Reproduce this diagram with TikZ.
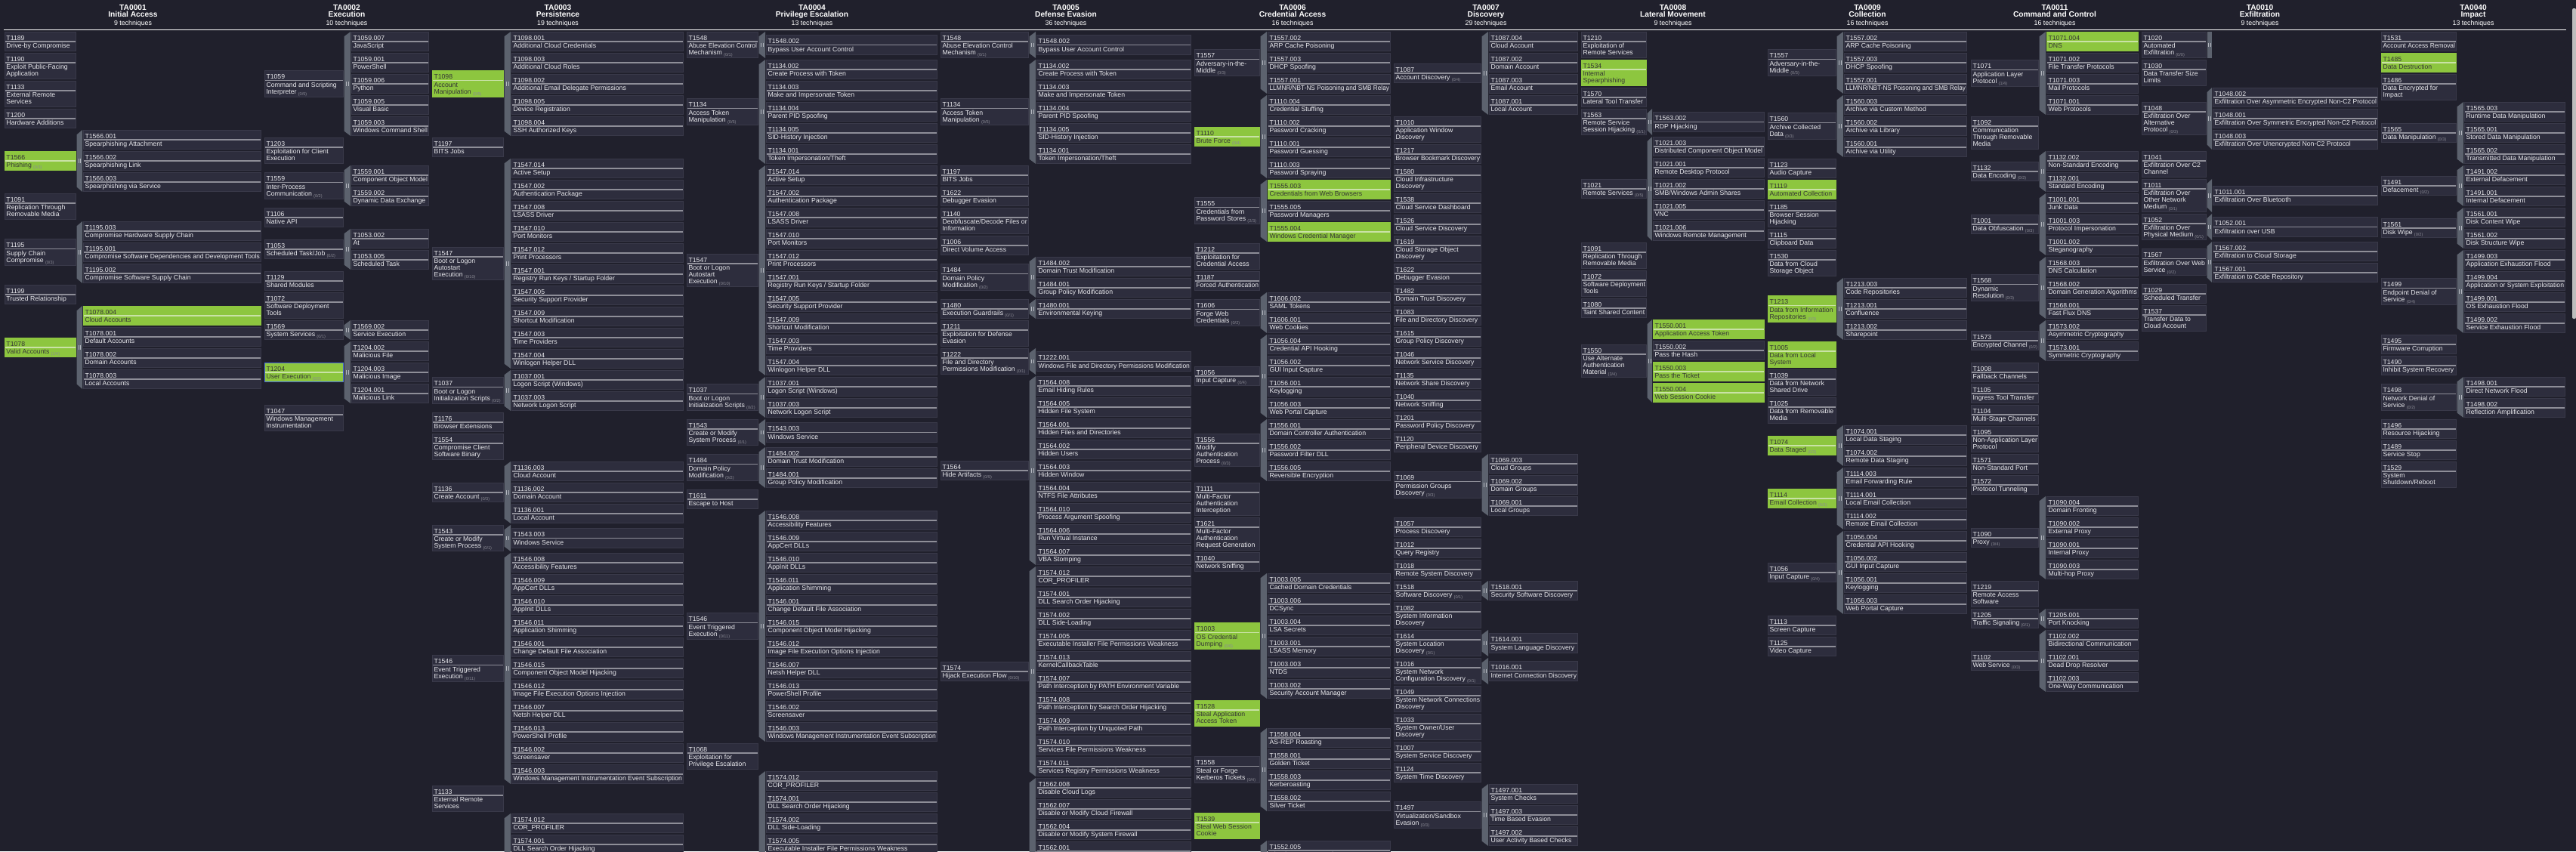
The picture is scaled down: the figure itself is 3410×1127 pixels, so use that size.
\documentclass[tikz,border=0pt]{standalone}
\usepackage{fontspec}
\setmainfont{Liberation Sans}
\usepackage{graphicx}
\definecolor{bgcol}{HTML}{20202C}
\definecolor{cellbg}{HTML}{2D2D3D}
\definecolor{cellbd}{HTML}{393949}
\definecolor{txt}{HTML}{E8E8EC}
\definecolor{txtdark}{HTML}{353535}
\definecolor{barcol}{HTML}{8E8E98}
\definecolor{hlgreen}{HTML}{8DC63F}
\definecolor{barhl}{HTML}{C9E2A6}
\definecolor{selblue}{HTML}{4A6FD6}
\definecolor{handlecol}{HTML}{5C626E}
\definecolor{markcol}{HTML}{B5B8C0}
\definecolor{cntcol}{HTML}{8A8A94}
\definecolor{scrollcol}{HTML}{BDBDBD}
\newsavebox\fitbox
\newcommand\fitto[2]{\sbox\fitbox{#2}\ifdim\wd\fitbox>#1\relax\resizebox{#1}{\ht\fitbox}{\usebox\fitbox}\else\usebox\fitbox\fi}
\newcommand\cellfont{\fontsize{8.7}{9}\selectfont}
\newcommand\cnt[1]{\hspace{2.2pt}\raisebox{-2pt}{\fontsize{5.6}{6}\selectfont\color{cntcol}(#1)}}
\newcommand\LN[1]{\hbox{\fitto{\curW}{#1}}}
\newcount\nsub
\newcommand\drawcell[7]{%
 \pgfmathsetmacro\cH{17.6+9*#4}%
 \ifcase#5\relax\def\cF{cellbg}\def\cT{txt}\def\cB{barcol}\def\cD{cellbd}%
 \or\def\cF{hlgreen}\def\cT{txtdark}\def\cB{barhl}\def\cD{hlgreen}%
 \else\def\cF{hlgreen}\def\cT{txtdark}\def\cB{barhl}\def\cD{selblue}\fi
 \filldraw[fill=\cF,draw=\cD,line width=0.8pt] (#1+0.4,#2+0.4) rectangle (#1+#3-0.4,#2+\cH-0.4);
 \fill[fill=\cB] (#1+0.7,#2+12.9) rectangle (#1+#3-0.7,#2+14.2);
 \pgfmathsetmacro\cW{#3-4.5}\xdef\curW{\cW pt}%
 \node[anchor=base west,inner sep=0,text=\cT,font=\cellfont] at (#1+2.3,#2+11.6) {#6};
 \node[anchor=base west,inner sep=0,text=\cT,font=\cellfont] at (#1+2.3,#2+22) {\vtop{\baselineskip=9pt\lineskiplimit=-20pt\lineskip=0pt #7}};
}
\newcommand\tactic[4]{\xdef\colTX{#1}\xdef\colTW{#2}\xdef\colSX{#3}\xdef\colSW{#4}\xdef\curY{41.5}}
\newcommand\marker[2]{\draw[draw=markcol,line width=0.8pt] (#1-1.1,#2-2.8) -- (#1-1.1,#2+2.8) (#1+1.1,#2-2.8) -- (#1+1.1,#2+2.8);}
\newcommand\tech[4]{%
 \drawcell{\colTX}{\curY}{\colTW}{#2}{#3}{#1}{#4}%
 \pgfmathsetmacro\tmpY{\curY+19+9*#2}\xdef\curY{\tmpY}}
\newcommand\techH[4]{%
 \drawcell{\colTX}{\curY}{\colTW}{#2}{#3}{#1}{#4}%
 \pgfmathsetmacro\hxa{\colTX+\colTW+0.6}\pgfmathsetmacro\hxb{\colSX-0.8}%
 \pgfmathsetmacro\hyb{\curY+17.6+9*#2}%
 \fill[fill=handlecol] (\hxa,\curY) rectangle (\hxb,\hyb);
 \pgfmathsetmacro\hxc{(\hxa+\hxb)/2}\pgfmathsetmacro\hyc{(\curY+\hyb)/2}%
 \marker{\hxc}{\hyc}%
 \pgfmathsetmacro\tmpY{\curY+19+9*#2}\xdef\curY{\tmpY}}
\newcommand\techS[5]{%
 \global\nsub=0
 \foreach \q in {#5}{\global\advance\nsub by 1}%
 \pgfmathsetmacro\tP{19+9*#2}%
 \pgfmathsetmacro\sH{28*\the\nsub}%
 \pgfmathsetmacro\bH{max(\tP,\sH)}%
 \pgfmathsetmacro\sT{\curY+(\bH-\sH)/2}%
 \pgfmathsetmacro\tT{\curY+(\bH-\tP)/2}%
 \pgfmathsetmacro\hxa{\colTX+\colTW+0.6}\pgfmathsetmacro\hxb{\colSX-0.8}%
 \pgfmathsetmacro\hya{\curY+0.3}\pgfmathsetmacro\hyb{\curY+\bH-1.4}%
 \fill[fill=handlecol] (\hxa,\hya+6.5) -- (\hxb,\hya) -- (\hxb,\hyb) -- (\hxa,\hyb-6.5) -- cycle;
 \pgfmathsetmacro\hxc{(\hxa+\hxb)/2}\pgfmathsetmacro\hyc{(\hya+\hyb)/2}%
 \marker{\hxc}{\hyc}%
 \drawcell{\colTX}{\tT}{\colTW}{#2}{#3}{#1}{#4}%
 \foreach \sid/\sname/\shl [count=\kk from 0] in {#5}{%
   \pgfmathsetmacro\yy{\sT+28*\kk}%
   \drawcell{\colSX}{\yy}{\colSW}{1}{\shl}{\sid}{\LN{\sname}}}%
 \pgfmathsetmacro\tmpY{\curY+\bH}\xdef\curY{\tmpY}}
\newcommand\header[4]{%
 \node[anchor=base,inner sep=0,text=white,font=\bfseries\fontsize{10.2}{11}\selectfont] at (#1,13.3) {#2};
 \node[anchor=base,inner sep=0,text=white,font=\bfseries\fontsize{10.2}{11}\selectfont] at (#1,22.6) {#3};
 \node[anchor=base,inner sep=0,text=white,font=\fontsize{8.8}{10}\selectfont] at (#1,33.2) {#4};}
\begin{document}
\begin{tikzpicture}[x=1pt,y=-1pt]
\useasboundingbox (0,0) rectangle (3410,1127);
\fill[fill=bgcol] (0,0) rectangle (3410,1127);
\clip (0,0) rectangle (3410,1127);
\fill[fill=scrollcol,rounded corners=2pt] (3405,11) rectangle (3410,422);
% headers
\header{176}{TA0001}{Initial Access}{9 techniques}
\header{459}{TA0002}{Execution}{10 techniques}
\header{738.5}{TA0003}{Persistence}{19 techniques}
\header{1075}{TA0004}{Privilege Escalation}{13 techniques}
\header{1411}{TA0005}{Defense Evasion}{36 techniques}
\header{1711}{TA0006}{Credential Access}{16 techniques}
\header{1967}{TA0007}{Discovery}{29 techniques}
\header{2214.5}{TA0008}{Lateral Movement}{9 techniques}
\header{2472}{TA0009}{Collection}{16 techniques}
\header{2720}{TA0011}{Command and Control}{16 techniques}
\header{2991.5}{TA0010}{Exfiltration}{9 techniques}
\header{3274}{TA0040}{Impact}{13 techniques}
\draw[draw=white,line width=1.2pt] (5,39.3) -- (3397,39.3);
% ---------------- TA0001
\tactic{6}{95}{110}{236}
\tech{T1189}{1}{0}{\LN{Drive-by Compromise}}
\tech{T1190}{2}{0}{\LN{Exploit Public-Facing}\LN{Application}}
\tech{T1133}{2}{0}{\LN{External Remote}\LN{Services}}
\tech{T1200}{1}{0}{\LN{Hardware Additions}}
\techS{T1566}{1}{1}{\LN{Phishing\cnt{0/3}}}{T1566.001/Spearphishing Attachment/0,%
T1566.002/Spearphishing Link/0,%
T1566.003/Spearphishing via Service/0}
\tech{T1091}{2}{0}{\LN{Replication Through}\LN{Removable Media}}
\techS{T1195}{2}{0}{\LN{Supply Chain}\LN{Compromise\cnt{0/3}}}{T1195.003/Compromise Hardware Supply Chain/0,%
T1195.001/Compromise Software Dependencies and Development Tools/0,%
T1195.002/Compromise Software Supply Chain/0}
\tech{T1199}{1}{0}{\LN{Trusted Relationship}}
\techS{T1078}{1}{1}{\LN{Valid Accounts\cnt{1/4}}}{T1078.004/Cloud Accounts/1,%
T1078.001/Default Accounts/0,%
T1078.002/Domain Accounts/0,%
T1078.003/Local Accounts/0}
% ---------------- TA0002
\tactic{350}{105}{465}{103}
\techS{T1059}{2}{0}{\LN{Command and Scripting}\LN{Interpreter\cnt{0/5}}}{T1059.007/JavaScript/0,%
T1059.001/PowerShell/0,%
T1059.006/Python/0,%
T1059.005/Visual Basic/0,%
T1059.003/Windows Command Shell/0}
\tech{T1203}{2}{0}{\LN{Exploitation for Client}\LN{Execution}}
\techS{T1559}{2}{0}{\LN{Inter-Process}\LN{Communication\cnt{0/2}}}{T1559.001/Component Object Model/0,%
T1559.002/Dynamic Data Exchange/0}
\tech{T1106}{1}{0}{\LN{Native API}}
\techS{T1053}{1}{0}{\LN{Scheduled Task/Job\cnt{0/2}}}{T1053.002/At/0,%
T1053.005/Scheduled Task/0}
\tech{T1129}{1}{0}{\LN{Shared Modules}}
\tech{T1072}{2}{0}{\LN{Software Deployment}\LN{Tools}}
\techS{T1569}{1}{0}{\LN{System Services\cnt{0/1}}}{T1569.002/Service Execution/0}
\techS{T1204}{1}{2}{\LN{User Execution\cnt{0/3}}}{T1204.002/Malicious File/0,%
T1204.003/Malicious Image/0,%
T1204.001/Malicious Link/0}
\tech{T1047}{2}{0}{\LN{Windows Management}\LN{Instrumentation}}
% ---------------- TA0003
\tactic{572}{95}{677}{228}
\techS{T1098}{2}{1}{\LN{Account}\LN{Manipulation\cnt{0/5}}}{T1098.001/Additional Cloud Credentials/0,%
T1098.003/Additional Cloud Roles/0,%
T1098.002/Additional Email Delegate Permissions/0,%
T1098.005/Device Registration/0,%
T1098.004/SSH Authorized Keys/0}
\tech{T1197}{1}{0}{\LN{BITS Jobs}}
\techS{T1547}{3}{0}{\LN{Boot or Logon}\LN{Autostart}\LN{Execution\cnt{0/10}}}{T1547.014/Active Setup/0,%
T1547.002/Authentication Package/0,%
T1547.008/LSASS Driver/0,%
T1547.010/Port Monitors/0,%
T1547.012/Print Processors/0,%
T1547.001/{Registry Run Keys / Startup Folder}/0,%
T1547.005/Security Support Provider/0,%
T1547.009/Shortcut Modification/0,%
T1547.003/Time Providers/0,%
T1547.004/Winlogon Helper DLL/0}
\techS{T1037}{2}{0}{\LN{Boot or Logon}\LN{Initialization Scripts\cnt{0/2}}}{T1037.001/Logon Script (Windows)/0,%
T1037.003/Network Logon Script/0}
\tech{T1176}{1}{0}{\LN{Browser Extensions}}
\tech{T1554}{2}{0}{\LN{Compromise Client}\LN{Software Binary}}
\techS{T1136}{1}{0}{\LN{Create Account\cnt{0/3}}}{T1136.003/Cloud Account/0,%
T1136.002/Domain Account/0,%
T1136.001/Local Account/0}
\techS{T1543}{2}{0}{\LN{Create or Modify}\LN{System Process\cnt{0/1}}}{T1543.003/Windows Service/0}
\techS{T1546}{2}{0}{\LN{Event Triggered}\LN{Execution\cnt{0/11}}}{T1546.008/Accessibility Features/0,%
T1546.009/AppCert DLLs/0,%
T1546.010/AppInit DLLs/0,%
T1546.011/Application Shimming/0,%
T1546.001/Change Default File Association/0,%
T1546.015/Component Object Model Hijacking/0,%
T1546.012/Image File Execution Options Injection/0,%
T1546.007/Netsh Helper DLL/0,%
T1546.013/PowerShell Profile/0,%
T1546.002/Screensaver/0,%
T1546.003/Windows Management Instrumentation Event Subscription/0}
\tech{T1133}{2}{0}{\LN{External Remote}\LN{Services}}
\techS{T1574}{1}{0}{\LN{Hijack Execution Flow\cnt{0/10}}}{T1574.012/COR\_PROFILER/0,%
T1574.001/DLL Search Order Hijacking/0,%
T1574.002/DLL Side-Loading/0,%
T1574.005/Executable Installer File Permissions Weakness/0,%
T1574.013/KernelCallbackTable/0,%
T1574.007/Path Interception by PATH Environment Variable/0,%
T1574.008/Path Interception by Search Order Hijacking/0,%
T1574.009/Path Interception by Unquoted Path/0,%
T1574.010/Services File Permissions Weakness/0,%
T1574.011/Services Registry Permissions Weakness/0}
% ---------------- TA0004
\tactic{909}{95}{1014}{227}
\techS{T1548}{2}{0}{\LN{Abuse Elevation Control}\LN{Mechanism\cnt{0/1}}}{T1548.002/Bypass User Account Control/0}
\techS{T1134}{2}{0}{\LN{Access Token}\LN{Manipulation\cnt{0/5}}}{T1134.002/Create Process with Token/0,%
T1134.003/Make and Impersonate Token/0,%
T1134.004/Parent PID Spoofing/0,%
T1134.005/SID-History Injection/0,%
T1134.001/{Token Impersonation/Theft}/0}
\techS{T1547}{3}{0}{\LN{Boot or Logon}\LN{Autostart}\LN{Execution\cnt{0/10}}}{T1547.014/Active Setup/0,%
T1547.002/Authentication Package/0,%
T1547.008/LSASS Driver/0,%
T1547.010/Port Monitors/0,%
T1547.012/Print Processors/0,%
T1547.001/{Registry Run Keys / Startup Folder}/0,%
T1547.005/Security Support Provider/0,%
T1547.009/Shortcut Modification/0,%
T1547.003/Time Providers/0,%
T1547.004/Winlogon Helper DLL/0}
\techS{T1037}{2}{0}{\LN{Boot or Logon}\LN{Initialization Scripts\cnt{0/2}}}{T1037.001/Logon Script (Windows)/0,%
T1037.003/Network Logon Script/0}
\techS{T1543}{2}{0}{\LN{Create or Modify}\LN{System Process\cnt{0/1}}}{T1543.003/Windows Service/0}
\techS{T1484}{2}{0}{\LN{Domain Policy}\LN{Modification\cnt{0/2}}}{T1484.002/Domain Trust Modification/0,%
T1484.001/Group Policy Modification/0}
\tech{T1611}{1}{0}{\LN{Escape to Host}}
\techS{T1546}{2}{0}{\LN{Event Triggered}\LN{Execution\cnt{0/11}}}{T1546.008/Accessibility Features/0,%
T1546.009/AppCert DLLs/0,%
T1546.010/AppInit DLLs/0,%
T1546.011/Application Shimming/0,%
T1546.001/Change Default File Association/0,%
T1546.015/Component Object Model Hijacking/0,%
T1546.012/Image File Execution Options Injection/0,%
T1546.007/Netsh Helper DLL/0,%
T1546.013/PowerShell Profile/0,%
T1546.002/Screensaver/0,%
T1546.003/Windows Management Instrumentation Event Subscription/0}
\tech{T1068}{2}{0}{\LN{Exploitation for}\LN{Privilege Escalation}}
\techS{T1574}{1}{0}{\LN{Hijack Execution Flow\cnt{0/10}}}{T1574.012/COR\_PROFILER/0,%
T1574.001/DLL Search Order Hijacking/0,%
T1574.002/DLL Side-Loading/0,%
T1574.005/Executable Installer File Permissions Weakness/0,%
T1574.013/KernelCallbackTable/0,%
T1574.007/Path Interception by PATH Environment Variable/0,%
T1574.008/Path Interception by Search Order Hijacking/0,%
T1574.009/Path Interception by Unquoted Path/0,%
T1574.010/Services File Permissions Weakness/0,%
T1574.011/Services Registry Permissions Weakness/0}
% ---------------- TA0005
\tactic{1245}{117}{1372}{205}
\techS{T1548}{2}{0}{\LN{Abuse Elevation Control}\LN{Mechanism\cnt{0/1}}}{T1548.002/Bypass User Account Control/0}
\techS{T1134}{2}{0}{\LN{Access Token}\LN{Manipulation\cnt{0/5}}}{T1134.002/Create Process with Token/0,%
T1134.003/Make and Impersonate Token/0,%
T1134.004/Parent PID Spoofing/0,%
T1134.005/SID-History Injection/0,%
T1134.001/{Token Impersonation/Theft}/0}
\tech{T1197}{1}{0}{\LN{BITS Jobs}}
\tech{T1622}{1}{0}{\LN{Debugger Evasion}}
\tech{T1140}{2}{0}{\LN{Deobfuscate/Decode Files or}\LN{Information}}
\tech{T1006}{1}{0}{\LN{Direct Volume Access}}
\techS{T1484}{2}{0}{\LN{Domain Policy}\LN{Modification\cnt{0/2}}}{T1484.002/Domain Trust Modification/0,%
T1484.001/Group Policy Modification/0}
\techS{T1480}{1}{0}{\LN{Execution Guardrails\cnt{0/1}}}{T1480.001/Environmental Keying/0}
\tech{T1211}{2}{0}{\LN{Exploitation for Defense}\LN{Evasion}}
\techS{T1222}{2}{0}{\LN{File and Directory}\LN{Permissions Modification\cnt{0/1}}}{T1222.001/Windows File and Directory Permissions Modification/0}
\techS{T1564}{1}{0}{\LN{Hide Artifacts\cnt{0/9}}}{T1564.008/Email Hiding Rules/0,%
T1564.005/Hidden File System/0,%
T1564.001/Hidden Files and Directories/0,%
T1564.002/Hidden Users/0,%
T1564.003/Hidden Window/0,%
T1564.004/NTFS File Attributes/0,%
T1564.010/Process Argument Spoofing/0,%
T1564.006/Run Virtual Instance/0,%
T1564.007/VBA Stomping/0}
\techS{T1574}{1}{0}{\LN{Hijack Execution Flow\cnt{0/10}}}{T1574.012/COR\_PROFILER/0,%
T1574.001/DLL Search Order Hijacking/0,%
T1574.002/DLL Side-Loading/0,%
T1574.005/Executable Installer File Permissions Weakness/0,%
T1574.013/KernelCallbackTable/0,%
T1574.007/Path Interception by PATH Environment Variable/0,%
T1574.008/Path Interception by Search Order Hijacking/0,%
T1574.009/Path Interception by Unquoted Path/0,%
T1574.010/Services File Permissions Weakness/0,%
T1574.011/Services Registry Permissions Weakness/0}
\techS{T1562}{1}{0}{\LN{Impair Defenses\cnt{0/8}}}{T1562.008/Disable Cloud Logs/0,%
T1562.007/Disable or Modify Cloud Firewall/0,%
T1562.004/Disable or Modify System Firewall/0,%
T1562.001/Disable or Modify Tools/0,%
T1562.002/Disable Windows Event Logging/0,%
T1562.010/Downgrade Attack/0,%
T1562.003/Impair Command History Logging/0,%
T1562.006/Indicator Blocking/0}
% ---------------- TA0006
\tactic{1581}{87}{1678}{163}
\techS{T1557}{2}{0}{\LN{Adversary-in-the-}\LN{Middle\cnt{0/3}}}{T1557.002/ARP Cache Poisoning/0,%
T1557.003/DHCP Spoofing/0,%
T1557.001/{LLMNR/NBT-NS Poisoning and SMB Relay}/0}
\techS{T1110}{1}{1}{\LN{Brute Force\cnt{0/4}}}{T1110.004/Credential Stuffing/0,%
T1110.002/Password Cracking/0,%
T1110.001/Password Guessing/0,%
T1110.003/Password Spraying/0}
\techS{T1555}{2}{0}{\LN{Credentials from}\LN{Password Stores\cnt{2/3}}}{T1555.003/Credentials from Web Browsers/1,%
T1555.005/Password Managers/0,%
T1555.004/Windows Credential Manager/1}
\tech{T1212}{2}{0}{\LN{Exploitation for}\LN{Credential Access}}
\tech{T1187}{1}{0}{\LN{Forced Authentication}}
\techS{T1606}{2}{0}{\LN{Forge Web}\LN{Credentials\cnt{0/2}}}{T1606.002/SAML Tokens/0,%
T1606.001/Web Cookies/0}
\techS{T1056}{1}{0}{\LN{Input Capture\cnt{0/4}}}{T1056.004/Credential API Hooking/0,%
T1056.002/GUI Input Capture/0,%
T1056.001/Keylogging/0,%
T1056.003/Web Portal Capture/0}
\techS{T1556}{3}{0}{\LN{Modify}\LN{Authentication}\LN{Process\cnt{0/3}}}{T1556.001/Domain Controller Authentication/0,%
T1556.002/Password Filter DLL/0,%
T1556.005/Reversible Encryption/0}
\tech{T1111}{3}{0}{\LN{Multi-Factor}\LN{Authentication}\LN{Interception}}
\tech{T1621}{3}{0}{\LN{Multi-Factor}\LN{Authentication}\LN{Request Generation}}
\tech{T1040}{1}{0}{\LN{Network Sniffing}}
\techS{T1003}{2}{1}{\LN{OS Credential}\LN{Dumping\cnt{0/6}}}{T1003.005/Cached Domain Credentials/0,%
T1003.006/DCSync/0,%
T1003.004/LSA Secrets/0,%
T1003.001/LSASS Memory/0,%
T1003.003/NTDS/0,%
T1003.002/Security Account Manager/0}
\tech{T1528}{2}{1}{\LN{Steal Application}\LN{Access Token}}
\techS{T1558}{2}{0}{\LN{Steal or Forge}\LN{Kerberos Tickets\cnt{0/4}}}{T1558.004/AS-REP Roasting/0,%
T1558.001/Golden Ticket/0,%
T1558.003/Kerberoasting/0,%
T1558.002/Silver Ticket/0}
\tech{T1539}{2}{1}{\LN{Steal Web Session}\LN{Cookie}}
\techS{T1552}{2}{0}{\LN{Unsecured}\LN{Credentials\cnt{0/5}}}{T1552.005/Cloud Instance Metadata API/0,%
T1552.001/Credentials In Files/0,%
T1552.002/Credentials in Registry/0,%
T1552.006/Group Policy Preferences/0,%
T1552.004/Private Keys/0}
% ---------------- TA0007
\tactic{1845}{116}{1971}{118}
\techS{T1087}{1}{0}{\LN{Account Discovery\cnt{0/4}}}{T1087.004/Cloud Account/0,%
T1087.002/Domain Account/0,%
T1087.003/Email Account/0,%
T1087.001/Local Account/0}
\tech{T1010}{2}{0}{\LN{Application Window}\LN{Discovery}}
\tech{T1217}{1}{0}{\LN{Browser Bookmark Discovery}}
\tech{T1580}{2}{0}{\LN{Cloud Infrastructure}\LN{Discovery}}
\tech{T1538}{1}{0}{\LN{Cloud Service Dashboard}}
\tech{T1526}{1}{0}{\LN{Cloud Service Discovery}}
\tech{T1619}{2}{0}{\LN{Cloud Storage Object}\LN{Discovery}}
\tech{T1622}{1}{0}{\LN{Debugger Evasion}}
\tech{T1482}{1}{0}{\LN{Domain Trust Discovery}}
\tech{T1083}{1}{0}{\LN{File and Directory Discovery}}
\tech{T1615}{1}{0}{\LN{Group Policy Discovery}}
\tech{T1046}{1}{0}{\LN{Network Service Discovery}}
\tech{T1135}{1}{0}{\LN{Network Share Discovery}}
\tech{T1040}{1}{0}{\LN{Network Sniffing}}
\tech{T1201}{1}{0}{\LN{Password Policy Discovery}}
\tech{T1120}{1}{0}{\LN{Peripheral Device Discovery}}
\techS{T1069}{2}{0}{\LN{Permission Groups}\LN{Discovery\cnt{0/3}}}{T1069.003/Cloud Groups/0,%
T1069.002/Domain Groups/0,%
T1069.001/Local Groups/0}
\tech{T1057}{1}{0}{\LN{Process Discovery}}
\tech{T1012}{1}{0}{\LN{Query Registry}}
\tech{T1018}{1}{0}{\LN{Remote System Discovery}}
\techS{T1518}{1}{0}{\LN{Software Discovery\cnt{0/1}}}{T1518.001/Security Software Discovery/0}
\tech{T1082}{2}{0}{\LN{System Information}\LN{Discovery}}
\techS{T1614}{2}{0}{\LN{System Location}\LN{Discovery\cnt{0/1}}}{T1614.001/System Language Discovery/0}
\techS{T1016}{2}{0}{\LN{System Network}\LN{Configuration Discovery\cnt{0/1}}}{T1016.001/Internet Connection Discovery/0}
\tech{T1049}{2}{0}{\LN{System Network Connections}\LN{Discovery}}
\tech{T1033}{2}{0}{\LN{System Owner/User}\LN{Discovery}}
\tech{T1007}{1}{0}{\LN{System Service Discovery}}
\tech{T1124}{1}{0}{\LN{System Time Discovery}}
\techS{T1497}{2}{0}{\LN{Virtualization/Sandbox}\LN{Evasion\cnt{0/3}}}{T1497.001/System Checks/0,%
T1497.003/Time Based Evasion/0,%
T1497.002/User Activity Based Checks/0}
% ---------------- TA0008
\tactic{2093}{87}{2188}{148}
\tech{T1210}{2}{0}{\LN{Exploitation of}\LN{Remote Services}}
\tech{T1534}{2}{1}{\LN{Internal}\LN{Spearphishing}}
\tech{T1570}{1}{0}{\LN{Lateral Tool Transfer}}
\techS{T1563}{2}{0}{\LN{Remote Service}\LN{Session Hijacking\cnt{0/1}}}{T1563.002/RDP Hijacking/0}
\techS{T1021}{1}{0}{\LN{Remote Services\cnt{0/5}}}{T1021.003/Distributed Component Object Model/0,%
T1021.001/Remote Desktop Protocol/0,%
T1021.002/{SMB/Windows Admin Shares}/0,%
T1021.005/VNC/0,%
T1021.006/Windows Remote Management/0}
\tech{T1091}{2}{0}{\LN{Replication Through}\LN{Removable Media}}
\tech{T1072}{2}{0}{\LN{Software Deployment}\LN{Tools}}
\tech{T1080}{1}{0}{\LN{Taint Shared Content}}
\techS{T1550}{3}{0}{\LN{Use Alternate}\LN{Authentication}\LN{Material\cnt{3/4}}}{T1550.001/Application Access Token/1,%
T1550.002/Pass the Hash/0,%
T1550.003/Pass the Ticket/1,%
T1550.004/Web Session Cookie/1}
% ---------------- TA0009
\tactic{2340}{91}{2441}{163}
\techS{T1557}{2}{0}{\LN{Adversary-in-the-}\LN{Middle\cnt{0/3}}}{T1557.002/ARP Cache Poisoning/0,%
T1557.003/DHCP Spoofing/0,%
T1557.001/{LLMNR/NBT-NS Poisoning and SMB Relay}/0}
\techS{T1560}{2}{0}{\LN{Archive Collected}\LN{Data\cnt{0/3}}}{T1560.003/Archive via Custom Method/0,%
T1560.002/Archive via Library/0,%
T1560.001/Archive via Utility/0}
\tech{T1123}{1}{0}{\LN{Audio Capture}}
\tech{T1119}{1}{1}{\LN{Automated Collection}}
\tech{T1185}{2}{0}{\LN{Browser Session}\LN{Hijacking}}
\tech{T1115}{1}{0}{\LN{Clipboard Data}}
\tech{T1530}{2}{0}{\LN{Data from Cloud}\LN{Storage Object}}
\techS{T1213}{2}{1}{\LN{Data from Information}\LN{Repositories\cnt{0/3}}}{T1213.003/Code Repositories/0,%
T1213.001/Confluence/0,%
T1213.002/Sharepoint/0}
\tech{T1005}{2}{1}{\LN{Data from Local}\LN{System}}
\tech{T1039}{2}{0}{\LN{Data from Network}\LN{Shared Drive}}
\tech{T1025}{2}{0}{\LN{Data from Removable}\LN{Media}}
\techS{T1074}{1}{1}{\LN{Data Staged\cnt{0/2}}}{T1074.001/Local Data Staging/0,%
T1074.002/Remote Data Staging/0}
\techS{T1114}{1}{1}{\LN{Email Collection\cnt{0/3}}}{T1114.003/Email Forwarding Rule/0,%
T1114.001/Local Email Collection/0,%
T1114.002/Remote Email Collection/0}
\techS{T1056}{1}{0}{\LN{Input Capture\cnt{0/4}}}{T1056.004/Credential API Hooking/0,%
T1056.002/GUI Input Capture/0,%
T1056.001/Keylogging/0,%
T1056.003/Web Portal Capture/0}
\tech{T1113}{1}{0}{\LN{Screen Capture}}
\tech{T1125}{1}{0}{\LN{Video Capture}}
% ---------------- TA0011
\tactic{2609}{90}{2709}{122}
\techS{T1071}{2}{0}{\LN{Application Layer}\LN{Protocol\cnt{1/4}}}{T1071.004/DNS/1,%
T1071.002/File Transfer Protocols/0,%
T1071.003/Mail Protocols/0,%
T1071.001/Web Protocols/0}
\tech{T1092}{3}{0}{\LN{Communication}\LN{Through Removable}\LN{Media}}
\techS{T1132}{1}{0}{\LN{Data Encoding\cnt{0/2}}}{T1132.002/Non-Standard Encoding/0,%
T1132.001/Standard Encoding/0}
\techS{T1001}{1}{0}{\LN{Data Obfuscation\cnt{0/3}}}{T1001.001/Junk Data/0,%
T1001.003/Protocol Impersonation/0,%
T1001.002/Steganography/0}
\techS{T1568}{2}{0}{\LN{Dynamic}\LN{Resolution\cnt{0/3}}}{T1568.003/DNS Calculation/0,%
T1568.002/Domain Generation Algorithms/0,%
T1568.001/Fast Flux DNS/0}
\techS{T1573}{1}{0}{\LN{Encrypted Channel\cnt{0/2}}}{T1573.002/Asymmetric Cryptography/0,%
T1573.001/Symmetric Cryptography/0}
\tech{T1008}{1}{0}{\LN{Fallback Channels}}
\tech{T1105}{1}{0}{\LN{Ingress Tool Transfer}}
\tech{T1104}{1}{0}{\LN{Multi-Stage Channels}}
\tech{T1095}{2}{0}{\LN{Non-Application Layer}\LN{Protocol}}
\tech{T1571}{1}{0}{\LN{Non-Standard Port}}
\tech{T1572}{1}{0}{\LN{Protocol Tunneling}}
\techS{T1090}{1}{0}{\LN{Proxy\cnt{0/4}}}{T1090.004/Domain Fronting/0,%
T1090.002/External Proxy/0,%
T1090.001/Internal Proxy/0,%
T1090.003/Multi-hop Proxy/0}
\tech{T1219}{2}{0}{\LN{Remote Access}\LN{Software}}
\techS{T1205}{1}{0}{\LN{Traffic Signaling\cnt{0/1}}}{T1205.001/Port Knocking/0}
\techS{T1102}{1}{0}{\LN{Web Service\cnt{0/3}}}{T1102.002/Bidirectional Communication/0,%
T1102.001/Dead Drop Resolver/0,%
T1102.003/One-Way Communication/0}
% ---------------- TA0010
\tactic{2835}{86}{2929}{219}
\techH{T1020}{2}{0}{\LN{Automated}\LN{Exfiltration\cnt{0/0}}}
\tech{T1030}{2}{0}{\LN{Data Transfer Size}\LN{Limits}}
\techS{T1048}{3}{0}{\LN{Exfiltration Over}\LN{Alternative}\LN{Protocol\cnt{0/3}}}{T1048.002/Exfiltration Over Asymmetric Encrypted Non-C2 Protocol/0,%
T1048.001/Exfiltration Over Symmetric Encrypted Non-C2 Protocol/0,%
T1048.003/Exfiltration Over Unencrypted Non-C2 Protocol/0}
\tech{T1041}{2}{0}{\LN{Exfiltration Over C2}\LN{Channel}}
\techS{T1011}{3}{0}{\LN{Exfiltration Over}\LN{Other Network}\LN{Medium\cnt{0/1}}}{T1011.001/Exfiltration Over Bluetooth/0}
\techS{T1052}{2}{0}{\LN{Exfiltration Over}\LN{Physical Medium\cnt{0/1}}}{T1052.001/Exfiltration over USB/0}
\techS{T1567}{2}{0}{\LN{Exfiltration Over Web}\LN{Service\cnt{0/2}}}{T1567.002/Exfiltration to Cloud Storage/0,%
T1567.001/Exfiltration to Code Repository/0}
\tech{T1029}{1}{0}{\LN{Scheduled Transfer}}
\tech{T1537}{2}{0}{\LN{Transfer Data to}\LN{Cloud Account}}
% ---------------- TA0040
\tactic{3152}{100}{3262}{134}
\tech{T1531}{1}{0}{\LN{Account Access Removal}}
\tech{T1485}{1}{1}{\LN{Data Destruction}}
\tech{T1486}{2}{0}{\LN{Data Encrypted for}\LN{Impact}}
\techS{T1565}{1}{0}{\LN{Data Manipulation\cnt{0/3}}}{T1565.003/Runtime Data Manipulation/0,%
T1565.001/Stored Data Manipulation/0,%
T1565.002/Transmitted Data Manipulation/0}
\techS{T1491}{1}{0}{\LN{Defacement\cnt{0/2}}}{T1491.002/External Defacement/0,%
T1491.001/Internal Defacement/0}
\techS{T1561}{1}{0}{\LN{Disk Wipe\cnt{0/2}}}{T1561.001/Disk Content Wipe/0,%
T1561.002/Disk Structure Wipe/0}
\techS{T1499}{2}{0}{\LN{Endpoint Denial of}\LN{Service\cnt{0/4}}}{T1499.003/Application Exhaustion Flood/0,%
T1499.004/Application or System Exploitation/0,%
T1499.001/OS Exhaustion Flood/0,%
T1499.002/Service Exhaustion Flood/0}
\tech{T1495}{1}{0}{\LN{Firmware Corruption}}
\tech{T1490}{1}{0}{\LN{Inhibit System Recovery}}
\techS{T1498}{2}{0}{\LN{Network Denial of}\LN{Service\cnt{0/2}}}{T1498.001/Direct Network Flood/0,%
T1498.002/Reflection Amplification/0}
\tech{T1496}{1}{0}{\LN{Resource Hijacking}}
\tech{T1489}{1}{0}{\LN{Service Stop}}
\tech{T1529}{2}{0}{\LN{System}\LN{Shutdown/Reboot}}
\end{tikzpicture}
\end{document}
